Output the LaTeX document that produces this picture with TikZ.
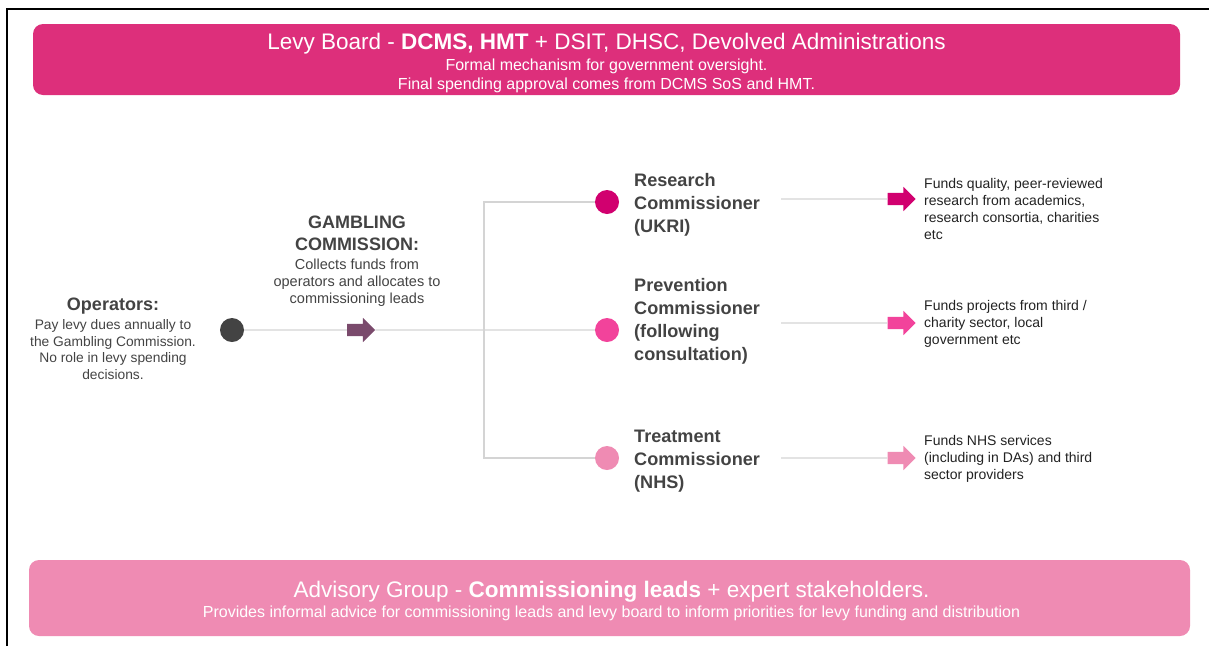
\documentclass[tikz,border=0pt]{standalone}
\usepackage{fontspec}
\setmainfont{Liberation Sans}
\usetikzlibrary{shapes.arrows}

\definecolor{boardpink}{HTML}{DD2F7B}
\definecolor{advisepink}{HTML}{EF8BB3}
\definecolor{researchc}{HTML}{D1006F}
\definecolor{preventc}{HTML}{F2439B}
\definecolor{treatc}{HTML}{EF8BB3}
\definecolor{operc}{HTML}{434343}
\definecolor{gcpurple}{HTML}{7A4A6C}
\definecolor{linegray}{HTML}{D4D4D4}
\definecolor{labelgray}{HTML}{434343}
\definecolor{desctext}{HTML}{222222}

\tikzset{
  banner/.style={fill=#1, rounded corners=10pt, inner sep=0pt},
  bannertitle/.style={text=white, inner sep=0pt, font=\fontsize{22.5}{26}\selectfont},
  bannernote/.style={text=white, inner sep=0pt, align=center, font=\fontsize{16}{19}\selectfont},
  dotnode/.style={circle, fill=#1, minimum size=24pt, inner sep=0pt},
  blockarrow/.style={single arrow, fill=#1, inner sep=0pt, text height=12pt,
    single arrow head extend=6pt, minimum height=28pt},
  conn/.style={draw=linegray, line width=1.4pt},
  headlabel/.style={text=labelgray, inner sep=0pt, font=\fontsize{18}{22}\selectfont\bfseries},
  bodylabel/.style={text=labelgray, inner sep=0pt, font=\fontsize{13.8}{16.8}\selectfont},
  gcbody/.style={text=labelgray, inner sep=0pt, font=\fontsize{14.5}{17}\selectfont},
  commlabel/.style={anchor=west, align=left, text=labelgray, inner sep=0pt,
    font=\fontsize{18.1}{23}\selectfont\bfseries},
  desc/.style={anchor=west, align=left, text=desctext, inner sep=0pt,
    font=\fontsize{14}{17}\selectfont},
}

\begin{document}
\begin{tikzpicture}[x=1pt,y=-1pt]
\useasboundingbox (0,0) rectangle (1209,646);

% page frame (top and left edges)
\draw[line width=2pt, black] (6.5,646) -- (6.5,8.5) -- (1209,8.5);

% levy board banner
\node[banner=boardpink, minimum width=1147pt, minimum height=71pt] (board) at (606.5,59.5) {};
\node[bannertitle] (boardtitle) at (606.5,44) {Levy Board - \textbf{DCMS, HMT} + DSIT, DHSC, Devolved Administrations};
\node[bannernote] (boardnote) at (606.5,76) {Formal mechanism for government oversight.\\Final spending approval comes from DCMS SoS and HMT.};

% advisory group banner
\node[banner=advisepink, minimum width=1161pt, minimum height=76pt] (advisory) at (609.5,598) {};
\node[bannertitle] (advtitle) at (611.5,592) {Advisory Group - \textbf{Commissioning leads} + expert stakeholders.};
\node[bannernote] (advnote) at (611.5,613) {Provides informal advice for commissioning leads and levy board to inform priorities for levy funding and distribution};

% operators
\node[headlabel] (optitle) at (113,306) {Operators:};
\node[bodylabel, align=center] (optext) at (113,349.5) {Pay levy dues annually to\\the Gambling Commission.\\No role in levy spending\\decisions.};
\node[dotnode=operc] (opdot) at (232,330) {};

% gambling commission
\node[headlabel, align=center] (gctitle) at (357,233.5) {GAMBLING\\COMMISSION:};
\node[gcbody, align=center] (gctext) at (357,283) {Collects funds from\\operators and allocates to\\commissioning leads};
\node[blockarrow=gcpurple] (gcarrow) at (358,330) {};
\coordinate (junction) at (484,330);

% commissioning leads
\node[dotnode=researchc] (rsdot) at (607,202) {};
\node[dotnode=preventc] (prdot) at (607,330) {};
\node[dotnode=treatc] (trdot) at (607,458) {};

\node[commlabel] (rslabel) at (634,205) {Research\\Commissioner\\(UKRI)};
\node[commlabel] (prlabel) at (634,321.5) {Prevention\\Commissioner\\(following\\consultation)};
\node[commlabel] (trlabel) at (634,461) {Treatment\\Commissioner\\(NHS)};

\coordinate (rsline) at (781,199);
\coordinate (prline) at (781,323);
\coordinate (trline) at (781,458);
\node[blockarrow=researchc] (rsarrow) at (898.5,199) {};
\node[blockarrow=preventc] (prarrow) at (898.5,323) {};
\node[blockarrow=treatc] (trarrow) at (898.5,458) {};

\node[desc] (rsdesc) at (924,208.5) {Funds quality, peer-reviewed\\research from academics,\\research consortia, charities\\etc};
\node[desc] (prdesc) at (924,324) {Funds projects from third /\\charity sector, local\\government etc};
\node[desc] (trdesc) at (924,459) {Funds NHS services\\(including in DAs) and third\\sector providers};

% connectors
\draw[conn] (opdot) -- (gcarrow.west);
\draw[conn] (gcarrow.east) -- (junction) -- (prdot);
\draw[conn] (rsdot) -| (junction) |- (trdot);
\draw[conn] (rsline) -- (rsarrow.west);
\draw[conn] (prline) -- (prarrow.west);
\draw[conn] (trline) -- (trarrow.west);
\end{tikzpicture}
\end{document}
